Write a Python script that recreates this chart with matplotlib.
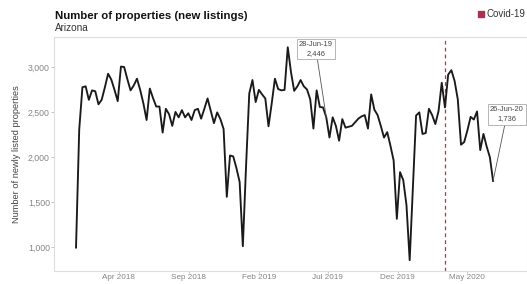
import matplotlib
matplotlib.use('Agg')
import matplotlib.pyplot as plt
import matplotlib.dates as mdates
import pandas as pd

# weekly new listings, Arizona (weeks ending Friday)
start_week = '2017-12-29'
listings = [995, 2310, 2780, 2790, 2640, 2745, 2735, 2590, 2640, 2780,
            2930, 2865, 2750, 2625, 3010, 3005, 2870, 2745, 2800, 2875,
            2750, 2600, 2415, 2765, 2660, 2565, 2565, 2275, 2540, 2480,
            2350, 2505, 2445, 2525, 2445, 2490, 2415, 2525, 2540, 2430,
            2540, 2655, 2515, 2380, 2500, 2425, 2315, 1560, 2020, 2010,
            1880, 1725, 1010, 1900, 2710, 2860, 2615, 2750, 2700, 2655,
            2345, 2600, 2875, 2760, 2745, 2750, 3225, 2950, 2740, 2790,
            2860, 2790, 2755, 2645, 2320, 2745, 2560, 2555, 2446, 2220,
            2445, 2350, 2185, 2425, 2330, 2340, 2350, 2390, 2430, 2455,
            2470, 2320, 2700, 2530, 2470, 2350, 2220, 2280, 2130, 1965,
            1315, 1835, 1745, 1470, 855, 1650, 2465, 2500, 2260, 2270,
            2540, 2470, 2370, 2515, 2830, 2555, 2920, 2970, 2850, 2645,
            2140, 2170, 2300, 2450, 2420, 2510, 2080, 2260, 2120, 2000,
            1736]
weeks = pd.date_range(start_week, periods=len(listings), freq='W-FRI')

covid_date = pd.Timestamp('2020-03-13')
labelled_weeks = ['2019-06-28', '2020-06-26']
label_offsets = [(-7.5, 49), (10, 48)]

tick_dates = pd.to_datetime(['2018-04-01', '2018-09-01', '2019-02-01',
                             '2019-07-01', '2019-12-01', '2020-05-01'])
y_ticks = [1000, 1500, 2000, 2500, 3000]

plt.rcParams['font.family'] = ['Liberation Sans', 'DejaVu Sans']

fig = plt.figure(figsize=(5.27, 2.84), dpi=100)
ax = fig.add_axes([0.1025, 0.046, 0.8975, 0.824])

ax.plot(weeks, listings, color='#1a1a1a', lw=1.35, zorder=3)
ax.axvline(covid_date, color='#c0304a', lw=0.9, ls=(0, (3, 2.5)), zorder=2)

s = pd.Series(listings, index=weeks)
for d, off in zip(labelled_weeks, label_offsets):
    d = pd.Timestamp(d)
    v = s[d]
    txt = d.strftime('%d-%b-%y') + '\n' + f'{v:,}'
    ax.annotate(txt, xy=(d, v), xytext=off, textcoords='offset points',
                ha='center', va='center', fontsize=5.4, color='#444444',
                linespacing=1.4,
                bbox=dict(boxstyle='square,pad=0.3', fc='white', ec='#999999', lw=0.5),
                arrowprops=dict(arrowstyle='-', color='#555555', lw=0.6,
                                shrinkA=0, shrinkB=0),
                zorder=5)

ax.set_xlim(pd.Timestamp('2017-11-11'), pd.Timestamp('2020-09-08'))
ax.set_ylim(735, 3340)
ax.set_xticks(tick_dates)
ax.xaxis.set_major_formatter(mdates.DateFormatter('%b %Y'))
ax.set_yticks(y_ticks)
ax.set_yticklabels([f'{t:,}' for t in y_ticks])
ax.tick_params(axis='y', labelsize=6.3, colors='#aaaaaa', labelcolor='#858585',
               length=2, width=0.5, pad=1)
ax.tick_params(axis='x', labelsize=5.9, colors='#aaaaaa', labelcolor='#858585',
               length=1.5, width=0.5, pad=0.5)

for side in ['top', 'left', 'bottom', 'right']:
    ax.spines[side].set_color('#dddddd')
    ax.spines[side].set_linewidth(0.8)

ax.set_ylabel('Number of newly listed properties', fontsize=6.7, color='#444444', labelpad=5)

fig.text(0.1044, 0.945, 'Number of properties (new listings)', fontsize=8.2,
         fontweight='bold', color='#111111', va='center')
fig.text(0.1044, 0.900, 'Arizona', fontsize=7.2, color='#333333', va='center')

# legend, runs off the right edge like the original
fig.patches.append(plt.Rectangle((0.907, 0.940), 0.0114, 0.021, color='#a83250',
                                 transform=fig.transFigure, figure=fig))
fig.text(0.924, 0.951, 'Covid-19', fontsize=7, color='#333333', va='center')

fig.savefig('out.png', dpi=100)
